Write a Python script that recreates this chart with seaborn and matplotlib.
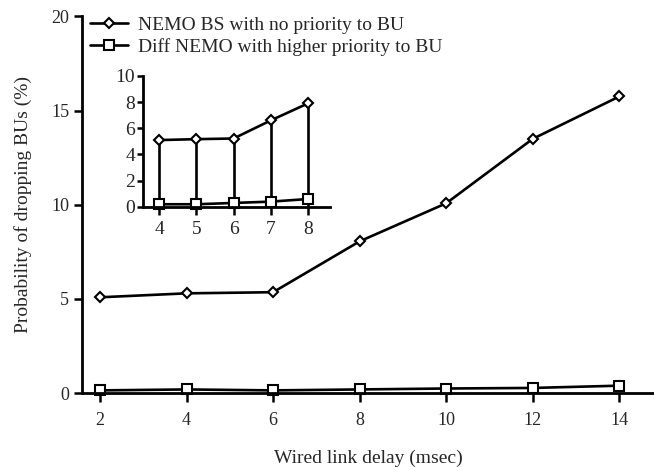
import matplotlib
matplotlib.use('Agg')
import matplotlib.pyplot as plt
import seaborn as sns

sns.set_style("ticks")
plt.rcParams['font.family'] = ['Liberation Serif', 'DejaVu Serif']

# Main chart data
delay = [2, 4, 6, 8, 10, 12, 14]
nemo_bs = [5.09, 5.3, 5.36, 8.06, 10.08, 13.5, 15.75]
diff_nemo = [0.15, 0.2, 0.15, 0.2, 0.25, 0.28, 0.4]

# Inset data
inset_delay = [4, 5, 6, 7, 8]
inset_nemo_bs = [5.1, 5.17, 5.22, 6.6, 7.9]
inset_diff_nemo = [0.2, 0.2, 0.3, 0.4, 0.6]

label_bs = 'NEMO BS with no priority to BU'
label_diff = 'Diff NEMO with higher priority to BU'

fig = plt.figure(figsize=(6.54, 4.67), dpi=100)
ax = fig.add_axes([0.125, 0.158, 0.875, 0.807])

line_kw = dict(color='black', linewidth=1.9, markeredgecolor='black',
               markerfacecolor='white', markeredgewidth=1.5)
sns.lineplot(x=delay, y=nemo_bs, marker='D', markersize=5.5, label=label_bs,
             ax=ax, **line_kw)
sns.lineplot(x=delay, y=diff_nemo, marker='s', markersize=7.5, label=label_diff,
             ax=ax, clip_on=False, **line_kw)

ax.set_xlim(1.58, 14.8)
ax.set_ylim(0, 20)
ax.set_xticks(delay)
ax.set_yticks([0, 5, 10, 15, 20])
ax.set_xlabel('Wired link delay (msec)', fontsize=14, labelpad=15)
ax.set_ylabel('Probability of dropping BUs (%)', fontsize=14, labelpad=14)
ax.tick_params(axis='both', labelsize=13, width=1.8, color='black')
ax.tick_params(axis='x', length=6.5, pad=7)
ax.tick_params(axis='y', length=6, pad=3)
for s in ['left', 'bottom']:
    ax.spines[s].set_linewidth(2)
    ax.spines[s].set_color('black')
sns.despine(ax=ax)
ax.legend(loc='upper left', bbox_to_anchor=(0.0, 1.02), frameon=False,
          fontsize=14, handlelength=2.0, handletextpad=0.5, labelspacing=0.18,
          borderaxespad=0.0)

# Inset
ins = fig.add_axes([0.219, 0.557, 0.286, 0.2805])
ins.vlines(inset_delay, 0, inset_nemo_bs, color='black', linewidth=1.9)
sns.lineplot(x=inset_delay, y=inset_nemo_bs, marker='D', markersize=5.5, ax=ins,
             **line_kw)
sns.lineplot(x=inset_delay, y=inset_diff_nemo, marker='s', markersize=7.5, ax=ins,
             clip_on=False, **line_kw)
ins.set_xlim(3.57, 8.6)
ins.set_ylim(0, 10)
ins.set_xticks(inset_delay)
ins.set_yticks([0, 2, 4, 6, 8, 10])
ins.tick_params(axis='both', labelsize=14, width=1.8, color='black')
ins.tick_params(axis='x', length=6, pad=4)
ins.tick_params(axis='y', length=4, pad=2)
for s in ['left', 'bottom']:
    ins.spines[s].set_linewidth(2)
    ins.spines[s].set_color('black')
sns.despine(ax=ins)
ins.patch.set_alpha(0)

fig.savefig('out.png', dpi=100)
